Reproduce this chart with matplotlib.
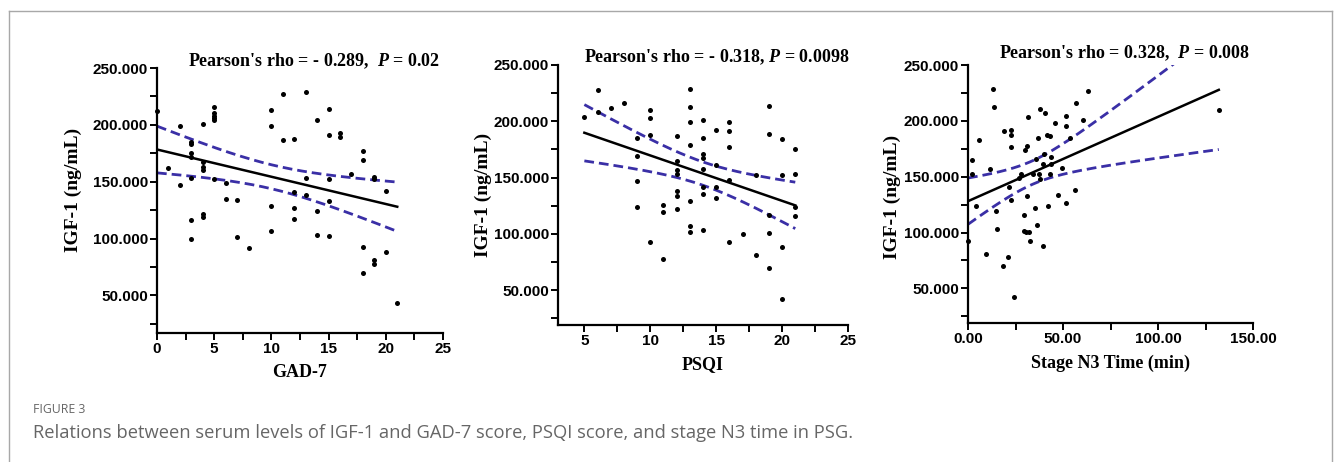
import numpy as np
import matplotlib
matplotlib.use("Agg")
import matplotlib.pyplot as plt
from matplotlib.lines import Line2D
from matplotlib.ticker import MultipleLocator, FuncFormatter

plt.rcParams['mathtext.fontset'] = 'custom'
plt.rcParams['mathtext.rm'] = 'Liberation Serif:bold'
plt.rcParams['mathtext.it'] = 'Liberation Serif:bold:italic'

# GAD-7 vs IGF-1
gad_x = [0, 1, 2, 2, 3, 3, 3, 3, 3, 3, 3, 4, 4, 4, 4, 4, 4, 5, 5, 5, 5, 5, 5,
         6, 6, 7, 7, 8, 10, 10, 10, 10, 11, 11, 12, 12, 12, 12, 13, 13, 13,
         14, 14, 14, 15, 15, 15, 15, 15, 16, 16, 17, 18, 18, 18, 18,
         19, 19, 19, 19, 20, 20, 21]
gad_y = [212, 162, 199, 147, 185, 183, 175, 172, 153, 116, 100, 201, 167, 163, 160, 122, 119,
         216, 210, 208, 206, 204, 152, 149, 135, 134, 101, 92, 213, 199, 129, 107,
         227, 187, 188, 141, 127, 117, 229, 153, 138, 204, 124, 103,
         214, 191, 152, 133, 102, 193, 189, 157, 177, 169, 93, 70,
         154, 152, 81, 78, 142, 88, 43]

# PSQI vs IGF-1
psqi_x = [5, 6, 6, 7, 8, 9, 9, 9, 9, 10, 10, 10, 10, 11, 11, 11,
          12, 12, 12, 12, 12, 12, 12, 13, 13, 13, 13, 13, 13, 13,
          14, 14, 14, 14, 14, 14, 14, 14, 15, 15, 15, 15,
          16, 16, 16, 16, 16, 17, 18, 18, 19, 19, 19, 19, 19,
          20, 20, 20, 20, 21, 21, 21, 21]
psqi_y = [204, 228, 208, 212, 216, 185, 169, 147, 124, 210, 203, 188, 93, 126, 119, 78,
          187, 165, 157, 153, 138, 134, 122, 229, 213, 199, 179, 129, 107, 102,
          201, 185, 171, 167, 158, 142, 135, 103, 192, 161, 142, 132,
          199, 191, 177, 148, 93, 100, 152, 81, 214, 189, 117, 101, 70,
          184, 152, 88, 42, 175, 153, 124, 116]

# Stage N3 time vs IGF-1
n3_x = [0, 2.1, 2.1, 4.2, 6, 9.6, 11.4, 13.2, 13.5, 14.9, 15.4, 18.4, 18.8, 21, 21.8,
        22.5, 22.5, 22.5, 22.5, 24.2, 26.8, 28, 29.5, 29.5, 30.7, 32, 30.2, 31.2, 31.6,
        31.2, 32.5, 34.2, 35.1, 35.6, 36.5, 37, 37.4, 37.9, 37.9, 39.3, 39.5, 40, 40.4,
        42.1, 41.8, 43, 43, 43.5, 43.9, 46, 47.4, 49.6, 51.8, 51.8, 51.8, 53.5, 56.1,
        57, 60.5, 63.2, 132]
n3_y = [92.5, 164.7, 152, 123.7, 183, 81.2, 157, 228.6, 212.3, 119, 103, 70.2, 190.6, 78.2, 141,
        192, 187.6, 176.6, 129, 42.6, 148.7, 152, 115.4, 101.4, 100.5, 100.5, 173.6, 177.8, 203,
        132.6, 92.5, 152, 122, 166, 106.4, 184.3, 152, 210.5, 147.5, 88, 161, 170.4, 207,
        123.7, 187.6, 186, 152, 168, 161, 198, 133.5, 157.9, 195.6, 204, 126, 184.6, 137.7,
        215.8, 201, 227, 210]

titles = ["Pearson's rho = - 0.289,  $P$ = 0.02",
          "Pearson's rho = - 0.318, $P$ = 0.0098",
          "Pearson's rho = 0.328,  $P$ = 0.008"]
xlabels = ["GAD-7", "PSQI", "Stage N3 Time (min)"]
y_ticks = [50, 100, 150, 200, 250]
x_ticks = [[0, 5, 10, 15, 20, 25], [5, 10, 15, 20, 25], [0, 50, 100, 150]]
x_minor = [2.5, 2.5, 25]
x_fmt = ["{:.0f}", "{:.0f}", "{:.2f}"]
xlims = [(0, 25), (3, 25), (0, 150)]
ylims = [(17, 250), (19, 250), (19, 250)]

T_CRIT = 2.0
ci_color = "#3a2fa6"

W, H = 1335, 462
fig = plt.figure(figsize=(W / 100, H / 100), dpi=100)
rects = [(157, 68, 443, 333), (558, 65, 848, 325), (968, 65, 1253, 323)]
title_dy = [2, 3, 7]
ylab_pos = [(-0.262, 0.54), (-0.228, 0.50), (-0.235, 0.49)]

data = [(gad_x, gad_y), (psqi_x, psqi_y), (n3_x, n3_y)]
for i, ((xs, ys), (l, t, r, b)) in enumerate(zip(data, rects)):
    ax = fig.add_axes([l / W, 1 - b / H, (r - l) / W, (b - t) / H])
    x = np.array(xs, float)
    y = np.array(ys, float)
    ax.scatter(x, y, s=13, color="black", zorder=3, clip_on=False, linewidths=0)

    # linear fit and 95% CI of the mean
    slope, icpt = np.polyfit(x, y, 1)
    n = len(x)
    resid = y - (slope * x + icpt)
    s = np.sqrt(np.sum(resid ** 2) / (n - 2))
    sxx = np.sum((x - x.mean()) ** 2)
    xf = np.linspace(x.min(), x.max(), 200)
    yf = slope * xf + icpt
    half = T_CRIT * s * np.sqrt(1 / n + (xf - x.mean()) ** 2 / sxx)
    ax.plot(xf, yf, color="black", lw=1.8, zorder=2)
    ax.plot(xf, yf + half, color=ci_color, lw=2.0, ls=(0, (3.5, 1.8)), zorder=2)
    ax.plot(xf, yf - half, color=ci_color, lw=2.0, ls=(0, (3.5, 1.8)), zorder=2)

    ax.set_xlim(*xlims[i])
    ax.set_ylim(*ylims[i])
    ax.set_xticks(x_ticks[i])
    ax.xaxis.set_minor_locator(MultipleLocator(x_minor[i]))
    ax.set_yticks(y_ticks)
    ax.yaxis.set_minor_locator(MultipleLocator(25))
    ax.yaxis.set_major_formatter(FuncFormatter(lambda v, p: "{:.3f}".format(v)))
    fmt = x_fmt[i]
    ax.xaxis.set_major_formatter(FuncFormatter(lambda v, p, f=fmt: f.format(v)))

    for sp in ["top", "right"]:
        ax.spines[sp].set_visible(False)
    for sp in ["left", "bottom"]:
        ax.spines[sp].set_linewidth(1.6)
    ax.tick_params(which="major", direction="out", length=5, width=1.4, pad=1.5)
    ax.tick_params(which="minor", direction="out", length=5, width=1.4)
    for lab in ax.get_xticklabels() + ax.get_yticklabels():
        lab.set_fontfamily("Liberation Sans")
        lab.set_fontweight("bold")
        lab.set_fontsize(11)

    ax.set_xlabel(xlabels[i], fontfamily="Liberation Serif", fontweight="bold",
                  fontsize=13, labelpad=6)
    ax.set_ylabel("IGF-1 (ng/mL)", fontfamily="Liberation Serif", fontweight="bold",
                  fontsize=14)
    ax.yaxis.set_label_coords(*ylab_pos[i])
    ax.text(0.5 + 14 / (r - l), 1 + title_dy[i] / (b - t), titles[i],
            transform=ax.transAxes, ha="center", va="baseline",
            fontfamily="Liberation Serif", fontweight="bold", fontsize=13)

# figure frame
frame = dict(color="#a8a8a8", lw=1.0, transform=fig.transFigure)
fig.add_artist(Line2D([9 / W, 1332 / W], [1 - 11 / H, 1 - 11 / H], **frame))
fig.add_artist(Line2D([9 / W, 9 / W], [0, 1 - 11 / H], **frame))
fig.add_artist(Line2D([1332 / W, 1332 / W], [0, 1 - 11 / H], **frame))

fig.text(33 / W, 1 - 413 / H, "FIGURE 3", fontfamily="Open Sans", fontsize=8.8,
         color="#666666", va="baseline")
fig.text(33 / W, 1 - 438 / H,
         "Relations between serum levels of IGF-1 and GAD-7 score, PSQI score, and stage N3 time in PSG.",
         fontfamily="Open Sans", fontsize=13.2, color="#666666", va="baseline")

fig.savefig("out.png", dpi=100)
